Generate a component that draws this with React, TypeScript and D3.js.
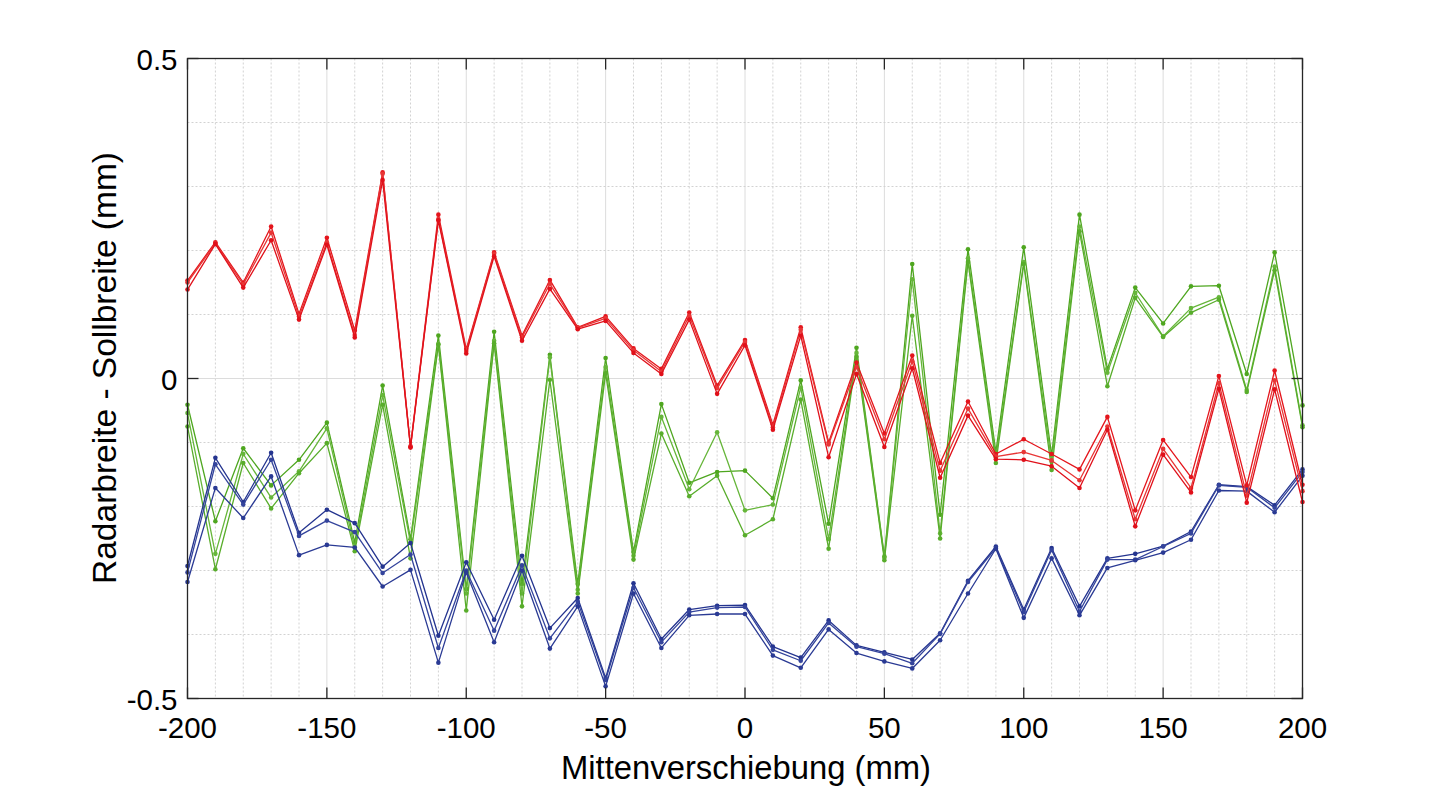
import React, {useEffect, useRef} from 'react';
import * as d3 from 'd3';

// Mittenverschiebung (mm)
const shifts = [
  -200, -190, -180, -170, -160, -150, -140, -130, -120, -110, -100,
  -90, -80, -70, -60, -50, -40, -30, -20, -10, 0,
  10, 20, 30, 40, 50, 60, 70, 80, 90, 100,
  110, 120, 130, 140, 150, 160, 170, 180, 190, 200
];

// red group
const red1 = [0.153, 0.213, 0.150, 0.2375, 0.101, 0.220, 0.075, 0.322, -0.106, 0.256, 0.046,
  0.197, 0.067, 0.154, 0.080, 0.097, 0.047, 0.015, 0.103, -0.011, 0.060,
  -0.072, 0.080, -0.100, 0.025, -0.086, 0.036, -0.132, -0.036, -0.118, -0.095,
  -0.118, -0.142, -0.060, -0.206, -0.096, -0.154, 0.004, -0.167, 0.0125, -0.166];
const red2 = [0.150, 0.211, 0.147, 0.228, 0.097, 0.213, 0.068, 0.320, -0.107, 0.249, 0.043,
  0.195, 0.064, 0.148, 0.079, 0.094, 0.044, 0.011, 0.098, -0.015, 0.057,
  -0.076, 0.076, -0.103, 0.018, -0.095, 0.027, -0.144, -0.047, -0.122, -0.115,
  -0.128, -0.159, -0.075, -0.220, -0.110, -0.171, -0.007, -0.183, -0.003, -0.176];
const red3 = [0.139, 0.210, 0.142, 0.216, 0.092, 0.209, 0.064, 0.310, -0.108, 0.247, 0.039,
  0.191, 0.059, 0.140, 0.077, 0.090, 0.040, 0.007, 0.092, -0.024, 0.052,
  -0.080, 0.067, -0.123, 0.007, -0.107, 0.016, -0.155, -0.058, -0.126, -0.127,
  -0.137, -0.171, -0.080, -0.231, -0.119, -0.178, -0.016, -0.194, -0.017, -0.193];

// green group
const green1 = [-0.041, -0.223, -0.109, -0.167, -0.127, -0.069, -0.256, -0.011, -0.251, 0.067, -0.329,
  0.073, -0.321, 0.037, -0.321, 0.032, -0.271, -0.040, -0.163, -0.146, -0.144,
  -0.187, -0.003, -0.227, 0.048, -0.278, 0.179, -0.213, 0.202, -0.115, 0.205,
  -0.120, 0.256, 0.015, 0.142, 0.086, 0.144, 0.145, 0.007, 0.197, -0.042];
const green2 = [-0.054, -0.274, -0.118, -0.186, -0.145, -0.078, -0.264, -0.026, -0.257, 0.054, -0.336,
  0.059, -0.336, 0.033, -0.330, 0.018, -0.277, -0.060, -0.173, -0.084, -0.206,
  -0.197, -0.014, -0.251, 0.040, -0.280, 0.155, -0.242, 0.188, -0.123, 0.182,
  -0.130, 0.2375, 0.009, 0.134, 0.066, 0.110, 0.127, -0.018, 0.175, -0.073];
const green3 = [-0.075, -0.298, -0.132, -0.203, -0.148, -0.101, -0.270, -0.041, -0.281, 0.053, -0.3625,
  0.055, -0.356, -0.002, -0.336, 0.008, -0.283, -0.086, -0.184, -0.152, -0.245,
  -0.220, -0.033, -0.266, 0.034, -0.284, 0.098, -0.250, 0.182, -0.132, 0.179,
  -0.143, 0.230, -0.012, 0.126, 0.065, 0.103, 0.123, -0.021, 0.169, -0.076];

// blue group
const blue1 = [-0.293, -0.124, -0.193, -0.116, -0.241, -0.205, -0.226, -0.294, -0.257, -0.402, -0.287,
  -0.377, -0.277, -0.390, -0.343, -0.468, -0.320, -0.407, -0.361, -0.355, -0.354,
  -0.419, -0.436, -0.378, -0.417, -0.428, -0.439, -0.398, -0.316, -0.2625, -0.361,
  -0.265, -0.356, -0.281, -0.274, -0.262, -0.239, -0.166, -0.169, -0.198, -0.142];
const blue2 = [-0.303, -0.134, -0.197, -0.127, -0.246, -0.222, -0.240, -0.304, -0.275, -0.421, -0.300,
  -0.394, -0.292, -0.406, -0.349, -0.471, -0.327, -0.412, -0.365, -0.358, -0.357,
  -0.424, -0.441, -0.382, -0.419, -0.430, -0.445, -0.399, -0.318, -0.265, -0.365,
  -0.268, -0.364, -0.283, -0.283, -0.2625, -0.242, -0.167, -0.170, -0.202, -0.146];
const blue3 = [-0.318, -0.171, -0.218, -0.153, -0.276, -0.260, -0.264, -0.325, -0.299, -0.444, -0.303,
  -0.412, -0.300, -0.422, -0.356, -0.481, -0.336, -0.421, -0.370, -0.368, -0.368,
  -0.433, -0.452, -0.392, -0.429, -0.442, -0.453, -0.409, -0.336, -0.266, -0.374,
  -0.281, -0.370, -0.296, -0.284, -0.272, -0.252, -0.175, -0.176, -0.209, -0.152];

const xTicks = [-200, -150, -100, -50, 0, 50, 100, 150, 200];
const yTicks = [-0.5, 0, 0.5];

const seriesList = [
  {values: green1, color: '#4ea61f'},
  {values: green2, color: '#66b63a'},
  {values: green3, color: '#58ad2b'},
  {values: blue1, color: '#24348f'},
  {values: blue2, color: '#34449c'},
  {values: blue3, color: '#2a3a94'},
  {values: red1, color: '#e4151c'},
  {values: red2, color: '#e83636'},
  {values: red3, color: '#e0101a'},
];

export default function App() {
  const ref = useRef<SVGSVGElement>(null);

  useEffect(() => {
    const svg = d3.select(ref.current);
    svg.selectAll('*').remove();

    const left = 187.5, right = 1302.5, top = 58.5, bottom = 698.5;
    const font = '"Liberation Sans", Arial, Helvetica, sans-serif';

    const x = d3.scaleLinear().domain([-200, 200]).range([left, right]);
    const y = d3.scaleLinear().domain([-0.5, 0.5]).range([bottom, top]);

    const grid = svg.append('g');
    // vertical grid, every 10 mm
    grid.selectAll('.vg')
      .data(shifts.filter(v => v > -200 && v < 200))
      .enter().append('line')
      .attr('x1', d => x(d)).attr('x2', d => x(d))
      .attr('y1', top).attr('y2', bottom)
      .attr('stroke', d => (d % 50 === 0 ? '#dcdcdc' : '#d2d2d2'))
      .attr('stroke-width', 1)
      .attr('stroke-dasharray', d => (d % 50 === 0 ? null : '2,2'));

    // horizontal grid, every 0.1
    const hGrid = d3.range(-4, 5).map(k => k / 10);
    grid.selectAll('.hg')
      .data(hGrid)
      .enter().append('line')
      .attr('x1', left).attr('x2', right)
      .attr('y1', d => y(d)).attr('y2', d => y(d))
      .attr('stroke', d => (Math.abs(d) < 1e-9 ? '#dcdcdc' : '#d2d2d2'))
      .attr('stroke-dasharray', d => (Math.abs(d) < 1e-9 ? null : '2,2'));

    const line = d3.line<number>()
      .x((d, i) => x(shifts[i]))
      .y(d => y(d));

    const plot = svg.append('g');
    seriesList.forEach(s => {
      plot.append('path')
        .datum(s.values)
        .attr('d', line)
        .attr('fill', 'none')
        .attr('stroke', s.color)
        .attr('stroke-width', 1.3)
        .attr('stroke-linejoin', 'round');
      plot.selectAll(null)
        .data(s.values)
        .enter().append('circle')
        .attr('cx', (d, i) => x(shifts[i]))
        .attr('cy', d => y(d))
        .attr('r', 2.3)
        .attr('fill', s.color);
    });

    // box
    svg.append('rect')
      .attr('x', left).attr('y', top)
      .attr('width', right - left).attr('height', bottom - top)
      .attr('fill', 'none')
      .attr('stroke', '#262626')
      .attr('stroke-width', 1.3);

    const tickLen = 11;
    const ticks = svg.append('g').attr('stroke', '#262626').attr('stroke-width', 1.3);
    xTicks.forEach(t => {
      ticks.append('line').attr('x1', x(t)).attr('x2', x(t)).attr('y1', bottom).attr('y2', bottom - tickLen);
      ticks.append('line').attr('x1', x(t)).attr('x2', x(t)).attr('y1', top).attr('y2', top + tickLen);
    });
    yTicks.forEach(t => {
      ticks.append('line').attr('x1', left).attr('x2', left + tickLen).attr('y1', y(t)).attr('y2', y(t));
      ticks.append('line').attr('x1', right).attr('x2', right - tickLen).attr('y1', y(t)).attr('y2', y(t));
    });

    svg.selectAll('.xl')
      .data(xTicks)
      .enter().append('text')
      .attr('x', d => x(d))
      .attr('y', 738)
      .attr('text-anchor', 'middle')
      .attr('font-family', font)
      .attr('font-size', 29.5)
      .attr('fill', '#000')
      .text(d => (d < 0 ? '-' + Math.abs(d) : String(d)));

    svg.selectAll('.yl')
      .data(yTicks)
      .enter().append('text')
      .attr('x', left - 10)
      .attr('y', d => y(d) + 11)
      .attr('text-anchor', 'end')
      .attr('font-family', font)
      .attr('font-size', 29.5)
      .attr('fill', '#000')
      .text(d => (d === 0 ? '0' : (d < 0 ? '-' + String(Math.abs(d)) : String(d))));

    svg.append('text')
      .attr('x', 746)
      .attr('y', 779)
      .attr('text-anchor', 'middle')
      .attr('font-family', font)
      .attr('font-size', 32.8)
      .attr('fill', '#000')
      .text('Mittenverschiebung (mm)');

    svg.append('text')
      .attr('transform', 'translate(116,368) rotate(-90)')
      .attr('text-anchor', 'middle')
      .attr('font-family', font)
      .attr('font-size', 33.5)
      .attr('fill', '#000')
      .text('Radarbreite - Sollbreite (mm)');
  }, []);

  return (
    <svg ref={ref} width={1440} height={787}
      style={{position: 'absolute', left: 0, top: 0, background: '#fff'}} />
  );
}
